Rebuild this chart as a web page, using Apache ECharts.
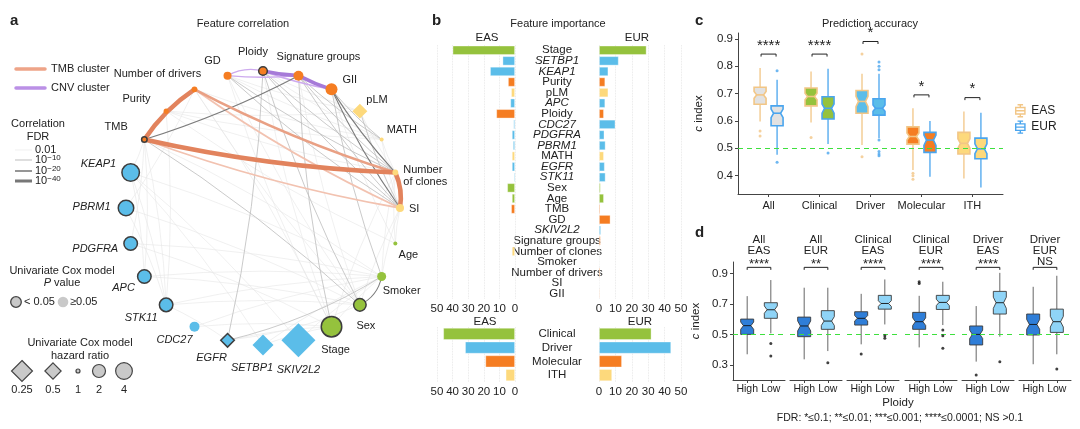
<!DOCTYPE html>
<html><head><meta charset="utf-8">
<script src="https://cdn.jsdelivr.net/npm/echarts@6/dist/echarts.min.js"></script>
<style>html,body{margin:0;padding:0;background:#fff}#c{width:1080px;height:429px}</style>
</head><body><div id="c"></div><script>
const FONT = '"Liberation Sans", Arial, sans-serif';

// ---------- Panel a: feature correlation network ----------
const nodeNames = ['SI','Number of clones','MATH','pLM','GII','Signature groups','Ploidy','GD','Number of drivers','Purity','TMB',
  'KEAP1','PBRM1','PDGFRA','APC','STK11','CDC27','EGFR','SETBP1','SKIV2L2','Stage','Sex','Smoker','Age'];
const nodeGroup = ['ith','ith','ith','ith','mol','mol','mol','mol','mol','mol','mol',
  'drv','drv','drv','drv','drv','drv','drv','drv','drv','clin','clin','clin','clin'];
const nodeHR = [1.15,1.03,1.0,0.58,1.73,1.36,1.2,1.15,1.03,1.01,1.02,
  4.76,3.1,2.17,2.17,2.17,1.36,0.67,0.245,0.01,10.3,1.86,1.24,1.0];
const nodeSig = [0,0,0,0,0,0,1,0,0,0,1,1,1,1,1,1,0,1,0,0,1,1,0,0];
const tmbCluster = ['TMB','Number of drivers','Number of clones','SI'];
const cnvCluster = ['GD','Ploidy','Signature groups','GII'];
// [source, target, FDR level: 1 = 0.01, 2 = 1e-10, 3 = 1e-20, 4 = 1e-40]
const edges = [
  ['KEAP1','STK11',1],['KEAP1','APC',1],['KEAP1','TMB',1],['PBRM1','STK11',1],['PBRM1','Number of drivers',1],
  ['PDGFRA','TMB',1],['STK11','Smoker',1],['STK11','Sex',1],['STK11','EGFR',1],['CDC27','Stage',1],['APC','Sex',1],
  ['PDGFRA','Stage',1],['KEAP1','Smoker',1],['EGFR','Stage',1],['SETBP1','Smoker',1],['SKIV2L2','Smoker',1],
  ['GD','Sex',1],['Ploidy','Stage',1],['Age','SI',1],['Age','Number of clones',1],['Smoker','SI',1],
  ['Smoker','Number of clones',1],['Sex','SI',1],['Stage','Number of clones',1],['Stage','Smoker',1],
  ['Purity','STK11',1],['Number of drivers','Stage',1],['KEAP1','SETBP1',1],['TMB','APC',1],['TMB','Smoker',1],
  ['TMB','STK11',1],['PBRM1','Sex',1],['APC','Smoker',1],['CDC27','Smoker',1],['Purity','Age',1],
  ['Number of drivers','Sex',1],['GII','Age',1],['MATH','Number of clones',1],['GD','Stage',1],['KEAP1','SKIV2L2',1],
  ['SETBP1','Stage',1],['PDGFRA','Smoker',1],['GD','MATH',1],['GD','pLM',1],['Ploidy','MATH',1],['Ploidy','pLM',1],
  ['pLM','Number of clones',1],['MATH','SI',1],['Purity','Number of clones',1],['Purity','MATH',1],['Purity','pLM',1],
  ['Number of drivers','MATH',1],['Signature groups','Sex',1],['EGFR','Sex',1],
  ['GD','Number of clones',2],['GD','SI',2],['Ploidy','Number of clones',2],['Ploidy','SI',2],['Signature groups','SI',2],
  ['Signature groups','MATH',2],['Signature groups','Number of clones',2],['pLM','SI',2],['Signature groups','Stage',2],
  ['GII','MATH',2],['GII','Smoker',2],['Ploidy','EGFR',2],['TMB','Sex',2],['Ploidy','Sex',2],['EGFR','Smoker',2],
  ['TMB','SI',2],['Number of drivers','SI',2],['GD','Ploidy',2],['GD','Signature groups',2],['Ploidy','GII',2],
  ['GII','SI',3],['GII','Number of clones',3],['TMB','Signature groups',3],['Sex','Smoker',3],
  ['Number of drivers','Number of clones',3],
  ['TMB','Number of drivers',4],['TMB','Number of clones',4],['Number of clones','SI',4],
  ['Ploidy','Signature groups',4],['Signature groups','GII',4]
];
const fdrLegend = ['0.01','10{s|−10}','10{s|−20}','10{s|−40}'];
const hrLegend = [0.25,0.5,1,2,4];

// ---------- Panel b: feature importance ----------
const featNames = ['Stage','SETBP1','KEAP1','Purity','pLM','APC','Ploidy','CDC27','PDGFRA','PBRM1','MATH','EGFR','STK11',
  'Sex','Age','TMB','GD','SKIV2L2','Signature groups','Number of clones','Smoker','Number of drivers','SI','GII'];
const featEAS = [40,8,16,4.5,2.5,3,12,1,2,1.3,2,2,0.8,5,2,2.5,0.5,0.4,0.5,2,0.5,0.3,0.3,0.5];
const featEUR = [29,12,5.7,3.8,5.7,3.8,3,10,3.3,4,3,3.5,4,1,3,0.8,7,1.2,1,0.5,0.5,0.8,0.3,0.6];
const groupNames = ['Clinical','Driver','Molecular','ITH'];
const groupEAS = [46,32,19,6];
const groupEUR = [32,44,14,8];

// ---------- Panel c: prediction accuracy ----------
const accCats = ['All','Clinical','Driver','Molecular','ITH'];
// [min, q1, median, q3, max]
const easBox = [[0.598,0.661,0.695,0.723,0.793],[0.594,0.655,0.689,0.72,0.78],[0.512,0.628,0.671,0.711,0.772],
  [0.421,0.515,0.543,0.578,0.646],[0.39,0.479,0.518,0.558,0.634]];
const easNotch = [[0.683,0.707],[0.677,0.701],[0.652,0.69],[0.53,0.556],[0.50,0.535]];
const eurBox = [[0.476,0.582,0.628,0.655,0.75],[0.516,0.607,0.646,0.688,0.79],[0.537,0.621,0.646,0.681,0.772],
  [0.396,0.485,0.53,0.558,0.6],[0.357,0.462,0.498,0.537,0.63]];
const eurNotch = [[0.612,0.643],[0.628,0.662],[0.635,0.658],[0.51,0.548],[0.48,0.516]];
const easOut = [['All',0.563],['All',0.545],['Clinical',0.539],['Driver',0.844],['Driver',0.469],
  ['Molecular',0.409],['Molecular',0.4],['Molecular',0.387]];
const eurOut = [['All',0.783],['All',0.449],['Clinical',0.483],['Driver',0.815],['Driver',0.8],['Driver',0.787],
  ['Driver',0.53],['Driver',0.488],['Driver',0.479],['Driver',0.473]];
const accSig = ['****','****','*','*','*'];
const accSigY = [0.844,0.844,0.89,0.695,0.685];
const accTicks = [0.4,0.5,0.6,0.7,0.8,0.9];

// ---------- Panel d: ploidy ----------
const facetGroup = ['All','All','Clinical','Clinical','Driver','Driver'];
const facetPop = ['EAS','EUR','EAS','EUR','EAS','EUR'];
const facetSig = ['****','**','****','****','****','NS'];
const ploidyLevels = ['High','Low'];
const highBox = [[0.372,0.502,0.559,0.602,0.752],[0.339,0.487,0.557,0.615,0.807],[0.437,0.563,0.607,0.65,0.767],
  [0.417,0.535,0.585,0.646,0.754],[0.324,0.433,0.502,0.557,0.687],[0.307,0.498,0.567,0.635,0.813]];
const highNotch = [[0.535,0.583],[0.525,0.59],[0.59,0.625],[0.56,0.61],[0.475,0.53],[0.535,0.6]];
const lowBox = [[0.509,0.607,0.663,0.709,0.857],[0.393,0.535,0.589,0.657,0.807],[0.567,0.667,0.704,0.757,0.861],
  [0.563,0.665,0.711,0.757,0.846],[0.487,0.635,0.709,0.783,0.904],[0.372,0.515,0.585,0.667,0.885]];
const lowNotch = [[0.64,0.688],[0.56,0.618],[0.685,0.722],[0.69,0.732],[0.672,0.745],[0.55,0.62]];
const highOut = [[2,0.374],[3,0.846],[3,0.835],[4,0.237]];
const lowOut = [[0,0.443],[0,0.361],[1,0.317],[2,0.493],[2,0.476],[3,0.53],[3,0.493],[3,0.411],[4,0.324],[5,0.276]];
const facetSigY = 0.94;
const ploidyTicks = [0.3,0.5,0.7,0.9];

// ================= styling / building =================
const groupColor = {clin:'#95c23d', drv:'#5bbde9', mol:'#f57d22', ith:'#fdd97c'};
const groupOf = {}; nodeNames.forEach((n,i)=>groupOf[n]=nodeGroup[i]);
const catGroup = {Clinical:'clin', Driver:'drv', Molecular:'mol', ITH:'ith'};
const hrSize = hr => 4 + 9*Math.sqrt(Math.abs(Math.log2(hr)));
const nodeLabel = {
 'SI':['right',[0,1]], 'Number of clones':['right',[0,3]], 'MATH':['right',[-2,-10]], 'pLM':['right',[-6,-11]],
 'GII':['right',[0,-9]], 'Signature groups':['top',[20,-3]], 'Ploidy':['top',[-10,-3]], 'GD':['top',[-15,0]],
 'Number of drivers':['top',[-37,-1]], 'Purity':['left',[-8,-12]], 'TMB':['left',[-8,-13]], 'KEAP1':['left',[0,-9]],
 'PBRM1':['left',[-2,-1]], 'PDGFRA':['left',[0,5]], 'APC':['left',[3,11]], 'STK11':['bottom',[-25,-5]],
 'CDC27':['bottom',[-20,-3]], 'EGFR':['bottom',[-16,-1]], 'SETBP1':['bottom',[-11,1]], 'SKIV2L2':['bottom',[0,2]],
 'Stage':['bottom',[4,1]], 'Sex':['bottom',[6,3]], 'Smoker':['bottom',[20,-1]], 'Age':['bottom',[13,-1]]
};
const labelText = {'Number of clones':'Number\nof clones'};

const graphNodes = nodeNames.map((n,i)=>{
  const hr = nodeHR[i], s = hrSize(hr), dia = hr < 1;
  const lp = nodeLabel[n];
  return {
    name:n, value:[1, n],
    symbol: dia ? 'diamond' : 'circle',
    symbolSize: dia ? s*1.25 : s,
    itemStyle:{color:groupColor[nodeGroup[i]], borderColor:'#3d3d3d', borderWidth: nodeSig[i] ? 1.5 : 0},
    label:{show:true, position:lp[0], offset:lp[1], distance:5, fontSize:11, fontFamily:FONT, color:'#222',
      fontStyle: nodeGroup[i]==='drv' ? 'italic' : 'normal', lineHeight:12,
      formatter: labelText[n] || n}
  };
});
const grayStyle = {1:['#e6e6e6',0.6],2:['#bdbdbd',0.8],3:['#7c7c7c',1.1],4:['#555',2.2]};
const tmbStyle = {2:['#f2c2b0',1.8],3:['#e9a084',2.6],4:['#e2835d',4.6]};
const cnvStyle = {2:['#cdaaee',1.4],3:['#b98fe3',2],4:['#a67ad8',3.6]};
const curveOverride = {'TMB|Number of drivers':-0.1,'Number of clones|SI':-0.15,'Sex|Smoker':-0.25,'GD|Ploidy':-0.2,
  'EGFR|Smoker':-0.08,'EGFR|Sex':-0.08};
const N = nodeNames.length;
const graphLinks = edges.slice().sort((a,b)=>a[2]-b[2]).map(([a,b,l])=>{
  let ia = nodeNames.indexOf(a), ib = nodeNames.indexOf(b);
  if ((ib - ia + N) % N > N/2) { const t = ia; ia = ib; ib = t; }
  const s = nodeNames[ia], t = nodeNames[ib];
  let st = grayStyle[l];
  if (tmbCluster.includes(s) && tmbCluster.includes(t)) st = tmbStyle[l];
  else if (cnvCluster.includes(s) && cnvCluster.includes(t)) st = cnvStyle[l];
  const cv = curveOverride[a+'|'+b] ?? curveOverride[b+'|'+a] ?? 0.045;
  return {source:s, target:t, lineStyle:{color:st[0], width:st[1], curveness:cv, opacity:1}};
});

// ----- grids -----
const dLefts = [733,790,847,905,962,1019];
const grids = [
  {left:437, top:45, width:78, height:254},
  {left:599, top:45, width:82, height:254},
  {left:437, top:327, width:78, height:55},
  {left:599, top:327, width:82, height:55},
  {left:738, top:33, width:265, height:161}
].concat(dLefts.map(l=>({left:l, top:262, width:52, height:118})));

const axisText = {fontSize:11, fontFamily:FONT, color:'#222'};
const xAxes = [], yAxes = [];
// b axes
[0,1,2,3].forEach(g=>{
  const left = g%2===0;
  xAxes.push({gridIndex:g, type:'value', min:0, max:50, interval:10, inverse:left, position:'bottom',
    axisLine:{show:false}, axisTick:{show:false}, axisLabel:Object.assign({margin:4},axisText, {fontSize:11.5}),
    splitLine:{show:true, lineStyle:{type:'dotted', color:'#e2e2e2', width:0.8}}});
  const cats = g<2 ? featNames : groupNames;
  yAxes.push({gridIndex:g, type:'category', data:cats, inverse:true, position: left ? 'right' : 'left',
    axisLine:{show:false}, axisTick:{show:false},
    axisLabel:{show:left, interval:0, align:'center', margin:42, fontSize:11.5, fontFamily:FONT, color:'#222',
      formatter: v => groupOf[v]==='drv' ? '{i|'+v+'}' : v,
      rich:{i:{fontStyle:'italic', fontSize:11.5, fontFamily:FONT, color:'#222'}}}});
});
// c axes
xAxes.push({gridIndex:4, type:'value', min:0.4, max:5.6,
  axisLine:{show:true, lineStyle:{color:'#444'}}, splitLine:{show:false},
  axisTick:{show:true, length:3, customValues:[1,2,3,4,5], lineStyle:{color:'#444'}},
  axisLabel:Object.assign({customValues:[1,2,3,4,5], margin:6, formatter:v=>accCats[Math.round(v)-1]}, axisText)});
yAxes.push({gridIndex:4, type:'value', min:0.333, max:0.921, name:'{i|c} index', nameLocation:'middle', nameGap:33,
  nameTextStyle:{fontSize:11.5, fontFamily:FONT, color:'#222', rich:{i:{fontStyle:'italic', fontSize:11.5, fontFamily:FONT}}},
  axisLine:{show:true, lineStyle:{color:'#444'}}, splitLine:{show:false},
  axisTick:{show:true, length:3, customValues:accTicks, lineStyle:{color:'#444'}},
  axisLabel:Object.assign({customValues:accTicks, margin:5, formatter:v=>v.toFixed(1)}, axisText, {fontSize:11.5})});
// d axes
dLefts.forEach((l,i)=>{
  xAxes.push({gridIndex:5+i, type:'value', min:0.4, max:2.6,
    axisLine:{show:true, lineStyle:{color:'#444'}}, splitLine:{show:false},
    axisTick:{show:true, length:3, customValues:[1,2], lineStyle:{color:'#444'}},
    axisLabel:Object.assign({customValues:[1,2], margin:4, formatter:v=>ploidyLevels[Math.round(v)-1]}, axisText, {fontSize:10.5})});
  yAxes.push({gridIndex:5+i, type:'value', min:0.204, max:0.975, show: i===0,
    name: i===0 ? '{i|c} index' : '', nameLocation:'middle', nameGap:31,
    nameTextStyle:{fontSize:11.5, fontFamily:FONT, color:'#222', rich:{i:{fontStyle:'italic', fontSize:11.5, fontFamily:FONT}}},
    axisLine:{show:true, lineStyle:{color:'#444'}}, splitLine:{show:false},
    axisTick:{show:true, length:3, customValues:ploidyTicks, lineStyle:{color:'#444'}},
    axisLabel:Object.assign({customValues:ploidyTicks, margin:5, formatter:v=>v.toFixed(1)}, axisText, {fontSize:11.5})});
});

// ----- helpers -----
function notched(api, xv, s, n, dx, hw, fill, stroke, wc, mc, lw, wl) {
  const X = api.coord([xv, s[2]])[0] + dx;
  const Y = v => api.coord([xv, v])[1];
  const ni = hw*0.42;
  const pts = [[X-hw,Y(s[3])],[X+hw,Y(s[3])],[X+hw,Y(n[1])],[X+hw-ni,Y(s[2])],[X+hw,Y(n[0])],[X+hw,Y(s[1])],
    [X-hw,Y(s[1])],[X-hw,Y(n[0])],[X-hw+ni,Y(s[2])],[X-hw,Y(n[1])]];
  return {type:'group', children:[
    {type:'line', shape:{x1:X,y1:Y(s[3]),x2:X,y2:Y(s[4])}, style:{stroke:wc, lineWidth:wl}},
    {type:'line', shape:{x1:X,y1:Y(s[1]),x2:X,y2:Y(s[0])}, style:{stroke:wc, lineWidth:wl}},
    {type:'polygon', shape:{points:pts}, style:{fill:fill, stroke:stroke, lineWidth:lw}},
    {type:'line', shape:{x1:X-hw+ni,y1:Y(s[2]),x2:X+hw-ni,y2:Y(s[2])}, style:{stroke:mc, lineWidth:lw}}
  ]};
}
const boxRow = (box, notch, xv) => [xv].concat(box, notch);
const EAS_C = '#f2c686', EUR_C = '#4aa5ee';
const accFill = accCats.map(c => c==='All' ? '#e2e2e2' : groupColor[catGroup[c]]);

const series = [];
// graph
series.push({type:'graph', coordinateSystem:'polar', polarIndex:0, data:graphNodes, links:graphLinks,
  lineStyle:{opacity:1}, emphasis:{disabled:true}, silent:true, z:3});
// b bars
const barCfg = (xi, names, vals) => ({type:'bar', xAxisIndex:xi, yAxisIndex:xi, barCategoryGap:'12%', silent:true,
  data: vals.map((v,i)=>({value:v, itemStyle:{color: groupColor[groupOf[names[i]] || catGroup[names[i]]],
    borderColor:'rgba(255,255,255,0.45)', borderWidth:0.8}}))});
series.push(barCfg(0, featNames, featEAS), barCfg(1, featNames, featEUR),
            barCfg(2, groupNames, groupEAS), barCfg(3, groupNames, groupEUR));
// c boxes
series.push({type:'custom', name:'EAS', xAxisIndex:4, yAxisIndex:4, silent:true, z:4,
  data: accCats.map((c,i)=>boxRow(easBox[i], easNotch[i], i+1)),
  renderItem:(p,api)=>notched(api, api.value(0), [1,2,3,4,5].map(k=>api.value(k)), [api.value(6),api.value(7)],
    -8.5, 6, accFill[p.dataIndex], EAS_C, EAS_C, EAS_C, 1.6, 1.3)});
series.push({type:'custom', name:'EUR', xAxisIndex:4, yAxisIndex:4, silent:true, z:4,
  data: accCats.map((c,i)=>boxRow(eurBox[i], eurNotch[i], i+1)),
  renderItem:(p,api)=>notched(api, api.value(0), [1,2,3,4,5].map(k=>api.value(k)), [api.value(6),api.value(7)],
    8.5, 6, accFill[p.dataIndex], EUR_C, EUR_C, EUR_C, 1.6, 1.3)});
series.push({type:'scatter', xAxisIndex:4, yAxisIndex:4, silent:true, symbolSize:3, symbolOffset:[-8.5,0],
  itemStyle:{color:EAS_C}, data: easOut.map(o=>[accCats.indexOf(o[0])+1, o[1]]), z:5});
series.push({type:'scatter', xAxisIndex:4, yAxisIndex:4, silent:true, symbolSize:3, symbolOffset:[8.5,0],
  itemStyle:{color:EUR_C}, data: eurOut.map(o=>[accCats.indexOf(o[0])+1, o[1]]), z:5});
series.push({type:'custom', xAxisIndex:4, yAxisIndex:4, silent:true, z:6,
  data: accCats.map((c,i)=>[i+1, accSigY[i]]),
  renderItem:(p,api)=>{
    const pt = api.coord([api.value(0), api.value(1)]);
    const x1 = pt[0]-7.5, x2 = pt[0]+7.5, y = pt[1];
    return {type:'group', children:[
      {type:'polyline', shape:{points:[[x1,y+2.5],[x1,y],[x2,y],[x2,y+2.5]]}, style:{stroke:'#222', lineWidth:1, fill:null}},
      {type:'text', x:pt[0], y:y-1, style:{text:accSig[p.dataIndex], font:'15px '+FONT, fill:'#222', align:'center', verticalAlign:'bottom'}}
    ]};
  },
  markLine:{silent:true, symbol:'none', label:{show:false}, lineStyle:{color:'#3ee03e', type:[5,4], width:1},
    data:[{yAxis:0.5}]}
});
// d boxes
dLefts.forEach((l,i)=>{
  const ax = 5+i;
  series.push({type:'custom', xAxisIndex:ax, yAxisIndex:ax, silent:true, z:4,
    data:[boxRow(highBox[i], highNotch[i], 1), boxRow(lowBox[i], lowNotch[i], 2)],
    renderItem:(p,api)=>notched(api, api.value(0), [1,2,3,4,5].map(k=>api.value(k)), [api.value(6),api.value(7)],
      0, 6.5, p.dataIndex===0 ? '#2f7ed8' : '#8fd4f7', '#3a3a3a', '#666', '#111', 0.9, 1),
    markLine:{silent:true, symbol:'none', label:{show:false}, lineStyle:{color:'#3ee03e', type:[5,4], width:1},
      data:[{yAxis:0.5}]}
  });
  const outs = highOut.filter(o=>o[0]===i).map(o=>[1,o[1]]).concat(lowOut.filter(o=>o[0]===i).map(o=>[2,o[1]]));
  series.push({type:'scatter', xAxisIndex:ax, yAxisIndex:ax, silent:true, symbolSize:3, itemStyle:{color:'#111'}, data:outs, z:5});
  series.push({type:'custom', xAxisIndex:ax, yAxisIndex:ax, silent:true, z:6, clip:false,
    data:[[1.5, facetSigY]],
    renderItem:(p,api)=>{
      const a = api.coord([1, facetSigY]), b = api.coord([2, facetSigY]);
      const y = a[1], mx = (a[0]+b[0])/2;
      const isNS = facetSig[i]==='NS';
      return {type:'group', children:[
        {type:'polyline', shape:{points:[[a[0],y+2.5],[a[0],y],[b[0],y],[b[0],y+2.5]]}, style:{stroke:'#222', lineWidth:1, fill:null}},
        {type:'text', x:mx, y:y-28, style:{text:facetGroup[i], font:'11.5px '+FONT, fill:'#222', align:'center', verticalAlign:'middle'}},
        {type:'text', x:mx, y:y-17, style:{text:facetPop[i], font:'11.5px '+FONT, fill:'#222', align:'center', verticalAlign:'middle'}},
        {type:'text', x:mx, y: isNS ? y-6 : y-3, style:{text:facetSig[i], font:(isNS?'11.5px ':'13px ')+FONT, fill:'#222', align:'center', verticalAlign:'middle'}}
      ]};
    }});
});

// ----- graphic annotations -----
const T = (x,y,text,opt) => ({type:'text', x:x, y:y, silent:true,
  style:Object.assign({text:text, font:'11px '+FONT, fill:'#222', align:'center', verticalAlign:'middle'}, opt||{})});
const G = [];
G.push(T(10,21,'a',{font:'bold 15px '+FONT, align:'left'}), T(432,21,'b',{font:'bold 15px '+FONT, align:'left'}),
       T(695,21,'c',{font:'bold 15px '+FONT, align:'left'}), T(695,233,'d',{font:'bold 15px '+FONT, align:'left'}));
G.push(T(243,24,'Feature correlation'), T(558,24,'Feature importance'), T(870,24,'Prediction accuracy'));
G.push(T(487,38,'EAS',{font:'11.5px '+FONT}), T(637,38,'EUR',{font:'11.5px '+FONT}),
       T(485,322,'EAS',{font:'11.5px '+FONT}), T(640,322,'EUR',{font:'11.5px '+FONT}));
G.push(T(898,403,'Ploidy',{font:'11.5px '+FONT}),
       T(900,418,'FDR: *≤0.1; **≤0.01; ***≤0.001; ****≤0.0001; NS >0.1',{font:'10.5px '+FONT}));
// a legends
G.push({type:'line', silent:true, shape:{x1:16,y1:69,x2:45,y2:69}, style:{stroke:'#eea488', lineWidth:3.5, lineCap:'round'}});
G.push(T(51,69,'TMB cluster',{align:'left'}));
G.push({type:'line', silent:true, shape:{x1:16,y1:88,x2:45,y2:88}, style:{stroke:'#bb90e6', lineWidth:3.5, lineCap:'round'}});
G.push(T(51,88,'CNV cluster',{align:'left'}));
G.push(T(38,124,'Correlation'), T(38,137,'FDR'));
const fdrY = [150,160,171,181];
fdrLegend.forEach((t,k)=>{
  const st = grayStyle[k+1];
  G.push({type:'line', silent:true, shape:{x1:15,y1:fdrY[k],x2:32,y2:fdrY[k]}, style:{stroke:k===3?'#777':st[0], lineWidth:[0.6,1,1.6,3][k]}});
  G.push(T(35,fdrY[k],t,{align:'left', rich:{s:{fontSize:8, fontFamily:FONT, fill:'#222', verticalAlign:'top', padding:[0,0,5,0]}}}));
});
G.push(T(62,271,'Univariate Cox model'), T(62,283,'{i|P} value',{rich:{i:{fontStyle:'italic', fontSize:11, fontFamily:FONT, fill:'#222'}}}));
G.push({type:'circle', silent:true, shape:{cx:16,cy:302,r:5.3}, style:{fill:'#c9c9c9', stroke:'#444', lineWidth:1.3}});
G.push(T(24,302,'< 0.05',{align:'left'}));
G.push({type:'circle', silent:true, shape:{cx:63,cy:302,r:5.3}, style:{fill:'#c9c9c9'}});
G.push(T(70,302,'≥0.05',{align:'left'}));
G.push(T(80,343,'Univariate Cox model'), T(80,356,'hazard ratio'));
const hrX = [22,53,78,99,124];
hrLegend.forEach((hr,k)=>{
  const s = hrSize(hr), cx = hrX[k], cy = 371;
  if (hr < 1) {
    const h = s*1.25/2;
    G.push({type:'polygon', silent:true, shape:{points:[[cx,cy-h],[cx+h,cy],[cx,cy+h],[cx-h,cy]]}, style:{fill:'#c9c9c9', stroke:'#444', lineWidth:1.2}});
  } else {
    G.push({type:'circle', silent:true, shape:{cx:cx,cy:cy,r:s/2}, style:{fill:'#c9c9c9', stroke:'#444', lineWidth:1.2}});
  }
  G.push(T(cx,390,String(hr)));
});

const option = {
  animation:false,
  backgroundColor:'#fff',
  textStyle:{fontFamily:FONT},
  polar:{center:[263,208], radius:137},
  angleAxis:{type:'category', data:nodeNames, boundaryGap:false, startAngle:0, clockwise:false, show:false},
  radiusAxis:{type:'value', min:0, max:1, show:false},
  grid:grids, xAxis:xAxes, yAxis:yAxes,
  legend:{left:1010, top:99, orient:'vertical', itemGap:3, itemWidth:12, itemHeight:12, selectedMode:false,
    textStyle:{fontSize:12, fontFamily:FONT, color:'#222'},
    data:[
      {name:'EAS', icon:'path://M3,0H9M6,0V3M1,3H11V10H1ZM1,6.5H11M6,10V13M3,13H9', itemStyle:{color:'#fff', borderColor:EAS_C, borderWidth:1.4}},
      {name:'EUR', icon:'path://M3,0H9M6,0V3M1,3H11V10H1ZM1,6.5H11M6,10V13M3,13H9', itemStyle:{color:'#fff', borderColor:EUR_C, borderWidth:1.4}}
    ]},
  series:series,
  graphic:G
};
const chart = echarts.init(document.getElementById('c'));
chart.setOption(option);
</script></body></html>
